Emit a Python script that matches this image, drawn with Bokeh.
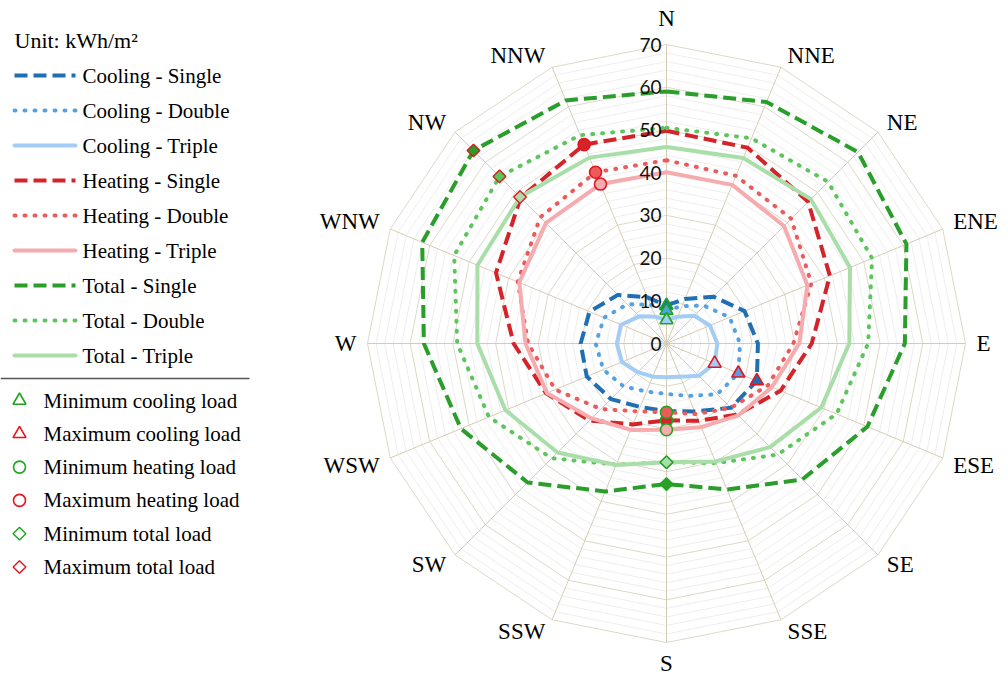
import numpy as np
from bokeh.plotting import figure
from bokeh.models import Range1d
from bokeh.core.properties import value
from bokeh.embed import file_html
from bokeh.resources import INLINE

# ---------------- data ----------------
directions = ["N", "NNE", "NE", "ENE", "E", "ESE", "SE", "SSE",
              "S", "SSW", "SW", "WSW", "W", "WNW", "NW", "NNW"]
radial_ticks = [0, 10, 20, 30, 40, 50, 60, 70]
unit_title = "Unit: kWh/m\u00b2"

cooling_single = [8.9, 11.3, 15.5, 19.8, 21.4, 22.9, 21.3, 17.2, 15.8, 16.1, 18.4, 20.2, 20.1, 19.5, 16.1, 11.7]
cooling_double = [7.7, 9.5, 12.5, 16.0, 17.2, 18.2, 16.8, 13.3, 11.8, 12.2, 14.2, 16.0, 16.6, 15.8, 13.0, 9.8]
cooling_triple = [5.5, 6.8, 9.2, 11.0, 11.9, 12.2, 10.7, 8.4, 7.9, 8.4, 9.5, 11.3, 11.6, 11.5, 9.0, 6.8]

heating_single = [49.8, 49.6, 46.9, 41.4, 34.0, 28.9, 23.5, 19.6, 18.0, 20.5, 25.5, 30.5, 35.8, 43.2, 48.3, 50.4]
heating_double = [42.9, 42.5, 41.3, 36.7, 29.7, 25.7, 21.3, 17.9, 16.1, 17.2, 21.7, 28.2, 32.4, 37.7, 41.8, 43.4]
heating_triple = [40.1, 40.2, 38.9, 35.7, 31.1, 26.7, 23.8, 21.2, 20.2, 21.9, 24.8, 30.3, 33.0, 37.3, 39.9, 40.4]

total_single = [59.0, 61.2, 63.4, 60.8, 55.8, 50.9, 45.0, 37.0, 32.9, 37.5, 46.0, 52.1, 56.8, 61.9, 63.9, 61.6]
total_double = [50.5, 52.0, 53.5, 52.1, 47.2, 43.1, 36.8, 30.3, 27.8, 30.7, 38.0, 45.0, 49.0, 53.8, 55.3, 52.8]
total_triple = [46.0, 47.0, 47.8, 46.5, 42.8, 39.2, 34.3, 29.9, 27.8, 30.8, 36.1, 40.8, 44.3, 47.9, 48.5, 47.1]

series_names = ["Cooling - Single", "Cooling - Double", "Cooling - Triple",
                "Heating - Single", "Heating - Double", "Heating - Triple",
                "Total - Single", "Total - Double", "Total - Triple"]
series_values = [cooling_single, cooling_double, cooling_triple,
                 heating_single, heating_double, heating_triple,
                 total_single, total_double, total_triple]
marker_labels = ["Minimum cooling load", "Maximum cooling load",
                 "Minimum heating load", "Maximum heating load",
                 "Minimum total load", "Maximum total load"]

# ---------------- styles ----------------
colors = ["#1f6fb2", "#55a2e3", "#a4cdf5",
          "#d42329", "#ec5a5c", "#f6abae",
          "#2a9e2a", "#5cc65c", "#a9dea9"]
styles = ["dashed", "dotted", "solid"] * 3
group_marker = ["triangle", "circle", "diamond"]
MIN_C = "#1ea51e"
MAX_C = "#e6141e"
SERIF = value("Liberation Serif")

K = 299 / 70.0          # pixels per kWh/m2
CX, CY = 666, 343       # chart centre in the picture
OFF = 0                 # figure origin in the picture
W, H = 1006, 678


def to_x(px):
    return (px - CX) / K


def to_y(py):
    return (CY - py) / K


def line_kw(style):
    if style == "dashed":
        return dict(line_dash="13 6", line_cap="butt")
    if style == "dotted":
        return dict(line_dash="1 9", line_cap="round")
    return dict(line_cap="round")


p = figure(width=W, height=H, output_backend="svg", toolbar_location=None,
           x_range=Range1d(to_x(OFF), to_x(OFF + W)), y_range=Range1d(to_y(OFF + H), to_y(OFF)),
           x_axis_type=None, y_axis_type=None, min_border=0,
           outline_line_color=None, background_fill_color="white",
           border_fill_color="white")

n = len(directions)
theta = np.arange(n) * 2 * np.pi / n
s, c = np.sin(theta), np.cos(theta)

# ---------------- grid ----------------
rmax = radial_ticks[-1]
minor = [r for r in np.arange(2, rmax + 1, 2) if r % 10 != 0]
p.multi_line([list(np.append(r * s, r * s[0])) for r in minor],
             [list(np.append(r * c, r * c[0])) for r in minor],
             line_color="#eeeeee", line_width=1)
p.multi_line([list(np.append(r * s, r * s[0])) for r in radial_ticks[1:]],
             [list(np.append(r * c, r * c[0])) for r in radial_ticks[1:]],
             line_color="#ddd8c8", line_width=1)
p.segment(x0=np.zeros(n), y0=np.zeros(n), x1=rmax * s, y1=rmax * c,
          line_color="#d4cdb6", line_width=1)

# ---------------- series ----------------
for vals, col, st in zip(series_values, colors, styles):
    v = np.array(vals)
    p.line(np.append(v * s, v[0] * s[0]), np.append(v * c, v[0] * c[0]),
           line_color=col, line_width=4, line_join="round", **line_kw(st))


def draw_marker(x, y, kind, fill, outline, size_scale=1.0):
    if kind == "triangle":
        p.scatter([x], [y], marker="triangle", size=13 * size_scale,
                  fill_color=fill, line_color=outline, line_width=1.6)
    elif kind == "circle":
        p.scatter([x], [y], marker="circle", size=12 * size_scale,
                  fill_color=fill, line_color=outline, line_width=1.6)
    else:
        p.scatter([x], [y], marker="square", size=9 * size_scale, angle=np.pi / 4,
                  fill_color=fill, line_color=outline, line_width=1.4)


for k, (vals, col) in enumerate(zip(series_values, colors)):
    v = np.array(vals)
    kind = group_marker[k // 3]
    i_min, i_max = int(np.argmin(v)), int(np.argmax(v))
    draw_marker(v[i_min] * s[i_min], v[i_min] * c[i_min], kind, col, MIN_C)
    draw_marker(v[i_max] * s[i_max], v[i_max] * c[i_max], kind, col, MAX_C)

# ---------------- radial tick labels ----------------
p.text(x=np.zeros(len(radial_ticks)), y=radial_ticks, text=[str(t) for t in radial_ticks],
       x_offset=-5, text_align="right", text_baseline="middle",
       text_font=value("Lato"), text_font_size="19px", text_color="#111111")

# ---------------- direction labels ----------------
for i, d in enumerate(directions):
    vx, vy = rmax * s[i], rmax * c[i]
    if abs(s[i]) < 1e-6:
        align = "center"
        xo = 0
        yo = -26 if c[i] > 0 else 21
    else:
        align = "left" if s[i] > 0 else "right"
        xo = np.sign(s[i]) * (4 + 7 * abs(s[i]))
        yo = 0 if abs(c[i]) < 1e-6 else -np.sign(c[i]) * (5 + 7 * abs(c[i]))
    p.text(x=[vx], y=[vy], text=[d], x_offset=xo, y_offset=yo,
           text_align=align, text_baseline="middle",
           text_font=SERIF, text_font_size="23px", text_color="#000000")

# ---------------- legend (drawn) ----------------
p.text(x=[to_x(14)], y=[to_y(40)], text=[unit_title], text_align="left",
       text_baseline="middle", text_font=SERIF, text_font_size="22px", text_color="#000000")
for k, (name, col, st) in enumerate(zip(series_names, colors, styles)):
    yy = to_y(75 + 35 * k)
    p.line([to_x(14), to_x(75)], [yy, yy], line_color=col, line_width=4, **line_kw(st))
    p.text(x=[to_x(82)], y=[yy], text=[name], text_align="left", text_baseline="middle",
           text_font=SERIF, text_font_size="21px", text_color="#000000")

p.segment(x0=[to_x(0)], y0=[to_y(378)], x1=[to_x(249)], y1=[to_y(378)],
          line_color="#555555", line_width=1.5)

for k, lab in enumerate(marker_labels):
    yy = to_y(400 + 33.3 * k)
    kind = group_marker[k // 2]
    outline = MIN_C if k % 2 == 0 else MAX_C
    draw_marker(to_x(19), yy, kind, None, outline, 1.0)
    p.text(x=[to_x(43)], y=[yy], text=[lab], text_align="left", text_baseline="middle",
           text_font=SERIF, text_font_size="21px", text_color="#000000")

open("out.html", "w").write(file_html(p, INLINE))
